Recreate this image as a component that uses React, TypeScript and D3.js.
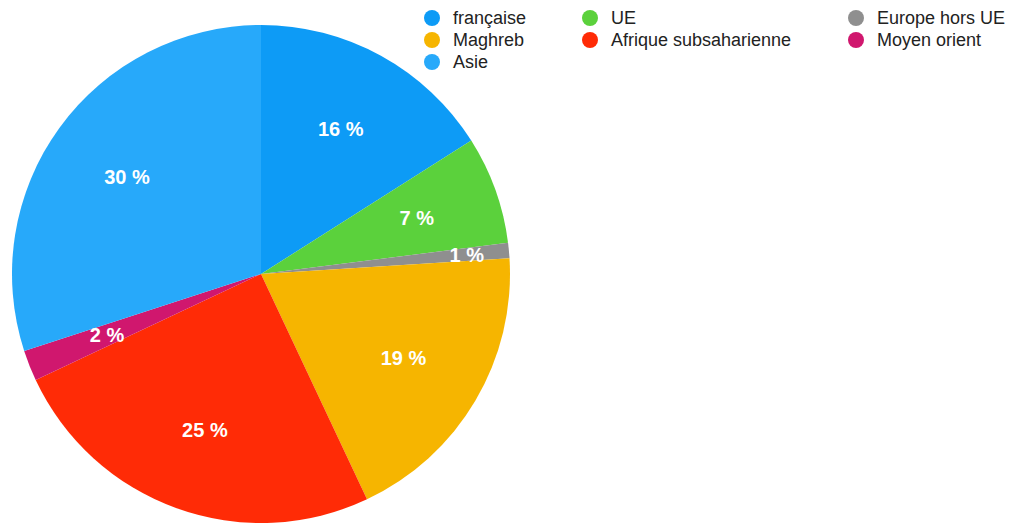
import * as d3 from "d3";
import { useEffect, useRef } from "react";

const categories = [
  "française",
  "UE",
  "Europe hors UE",
  "Maghreb",
  "Afrique subsaharienne",
  "Moyen orient",
  "Asie",
];
const values = [16, 7, 1, 19, 25, 2, 30];
const colors = [
  "#0d9bf6",
  "#5bd13c",
  "#8f8f8f",
  "#f6b500",
  "#ff2b06",
  "#d0176e",
  "#27a9fa",
];
// legend order as in the reference (row-major, three columns)
const legendOrder = [
  "française",
  "UE",
  "Europe hors UE",
  "Maghreb",
  "Afrique subsaharienne",
  "Moyen orient",
  "Asie",
];

const W = 1015;
const H = 524;
const FONT = "Helvetica, Arial, 'Liberation Sans', sans-serif";

const App = () => {
  const svgRef = useRef<SVGSVGElement>(null);

  useEffect(() => {
    const svgEl = svgRef.current;
    if (!svgEl) return;
    const svg = d3.select(svgEl);
    svg.selectAll("*").remove();

    const cx = 261;
    const cy = 274;
    const r = 249;

    const data = categories.map((c, i) => ({ name: c, value: values[i], color: colors[i] }));
    const pie = d3
      .pie<(typeof data)[number]>()
      .sort(null)
      .value((d) => d.value);
    const arcs = pie(data);
    const arc = d3.arc<d3.PieArcDatum<(typeof data)[number]>>().innerRadius(0).outerRadius(r);

    const g = svg.append("g").attr("transform", `translate(${cx},${cy})`);
    g.selectAll("path")
      .data(arcs)
      .join("path")
      .attr("d", arc)
      .attr("fill", (d) => d.data.color);

    // labels: small slices pushed further out
    g.selectAll("text")
      .data(arcs)
      .join("text")
      .attr("transform", (d) => {
        const a = (d.startAngle + d.endAngle) / 2;
        const lr = d.data.value < 2 ? r * 0.83 : r * 0.665;
        return `translate(${Math.sin(a) * lr},${-Math.cos(a) * lr})`;
      })
      .attr("text-anchor", "middle")
      .attr("dominant-baseline", "central")
      .attr("fill", "#fff")
      .attr("font-family", FONT)
      .attr("font-weight", "bold")
      .attr("font-size", 20)
      .text((d) => `${d.data.value} %`);

    // legend
    const colX = [432, 590, 856];
    const rowY = [18, 40, 62];
    const leg = svg.append("g");
    legendOrder.forEach((name, i) => {
      const idx = categories.indexOf(name);
      const x = colX[i % 3];
      const y = rowY[Math.floor(i / 3)];
      leg.append("circle").attr("cx", x).attr("cy", y).attr("r", 8).attr("fill", colors[idx]);
      leg
        .append("text")
        .attr("x", x + 21)
        .attr("y", y)
        .attr("dominant-baseline", "central")
        .attr("font-family", FONT)
        .attr("font-size", 18)
        .attr("fill", "#222")
        .text(name);
    });
  }, []);

  return (
    <svg
      ref={svgRef}
      width={W}
      height={H}
      style={{ position: "absolute", left: 0, top: 0, background: "#fff" }}
    />
  );
};

export default App;
